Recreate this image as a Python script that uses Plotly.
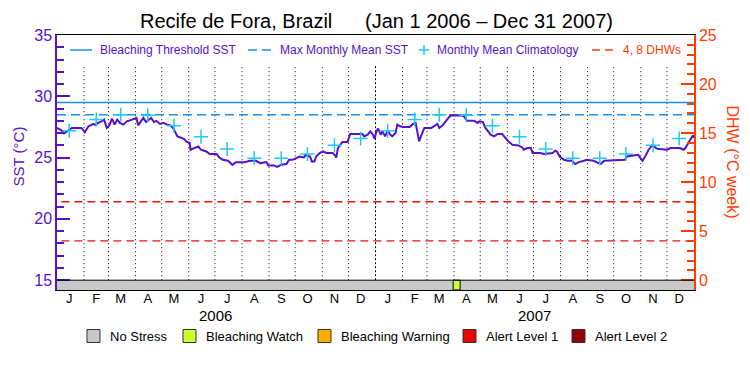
import pandas as pd
import plotly.graph_objects as go

# ---------------- data ----------------
title_site = "Recife de Fora, Brazil"
title_period = "(Jan 1 2006 \u2013 Dec 31 2007)"
period_start = "2006-01-01"
period_end = "2008-01-01"

# SST (deg C), day offsets from Jan 1 2006
sst_day = [0, 5, 8, 13, 17, 28, 32, 36, 42, 44, 47, 51, 54, 57, 60, 63, 66, 69, 72, 76,
           80, 86, 91, 93, 96, 99, 102, 105, 108, 111, 114, 118, 122, 126, 130, 133, 136, 138, 143, 146,
           148, 152, 153, 158, 162, 165, 171, 175, 183, 186, 190, 196, 201, 205, 215, 221, 228, 233, 240, 242,
           249, 252, 257, 263, 266, 270, 274, 278, 283, 285, 290, 292, 295, 297, 301, 305, 309, 316, 318, 320,
           322, 325, 327, 333, 336, 350, 352, 356, 359, 362, 364, 366, 368, 371, 373, 376, 379, 382, 384, 388,
           390, 393, 397, 404, 408, 411, 413, 415, 417, 421, 429, 432, 436, 438, 442, 447, 451, 463, 466, 470,
           478, 482, 484, 488, 491, 497, 501, 505, 510, 514, 518, 522, 529, 533, 535, 539, 543, 545, 554, 558,
           564, 568, 571, 573, 576, 581, 585, 590, 594, 598, 604, 607, 615, 619, 623, 627, 651, 653, 660, 666,
           668, 671, 674, 678, 682, 684, 688, 699, 703, 714, 718, 720, 724, 727, 729, 730]
sst_val = [27.42, 27.22, 26.98, 27.22, 27.42, 27.42, 27.06, 27.55, 27.75, 27.65, 27.83, 27.96, 28.10, 27.42, 27.63, 28.18, 27.69, 28.10, 27.83, 27.69,
           27.96, 28.10, 28.24, 27.63, 27.96, 28.24, 27.90, 28.10, 28.24, 27.90, 28.00, 27.75, 27.83, 27.69, 27.63, 27.42, 27.00, 26.73, 26.60, 26.50,
           26.32, 26.19, 25.64, 25.78, 25.91, 25.64, 25.50, 25.29, 25.29, 25.01, 24.82, 24.74, 24.41, 24.63, 24.63, 24.74, 24.74, 24.55, 24.63, 24.36,
           24.36, 24.25, 24.41, 24.47, 24.82, 24.82, 24.96, 25.09, 25.01, 25.23, 25.09, 24.69, 24.69, 25.09, 25.37, 25.50, 25.37, 25.37, 25.23, 25.01,
           25.78, 26.11, 26.27, 26.27, 26.93, 26.93, 26.73, 26.87, 27.14, 26.87, 26.52, 27.14, 27.36, 26.87, 27.14, 26.73, 27.20, 26.87, 26.73, 27.00,
           27.69, 27.55, 27.50, 27.50, 27.75, 27.83, 27.14, 26.32, 26.73, 27.42, 27.42, 27.55, 27.75, 27.42, 27.63, 28.10, 28.43, 28.45, 28.40, 28.00,
           28.00, 27.83, 27.96, 27.90, 27.42, 26.87, 26.73, 26.93, 26.93, 26.60, 26.27, 26.05, 25.99, 25.83, 25.64, 25.78, 25.78, 25.37, 25.37, 25.29,
           25.37, 25.37, 25.56, 25.50, 25.09, 24.82, 24.74, 24.74, 24.47, 24.63, 24.74, 24.82, 24.74, 24.63, 24.47, 24.74, 24.82, 25.09, 25.16, 25.23,
           25.01, 24.74, 25.09, 25.64, 26.00, 25.91, 25.72, 25.64, 25.78, 25.78, 25.64, 25.78, 26.32, 26.60, 26.81, 26.60]

# Monthly mean climatology (Jan..Dec)
clim_val = [27.2, 28.1, 28.5, 28.45, 27.6, 26.7, 25.7, 24.95, 24.95, 25.3, 26.0, 26.55]
years = [2006, 2007]
month_letters = ["J", "F", "M", "A", "M", "J", "J", "A", "S", "O", "N", "D"]

mmm = 28.5           # max monthly mean SST
threshold = 29.5     # bleaching threshold SST
dhw_levels = [4, 8]  # DHW reference lines

status_names = ["No Stress", "Bleaching Watch", "Bleaching Warning", "Alert Level 1", "Alert Level 2"]
status_colors = ["#c8c8c8", "#ccff33", "#ffaa00", "#ee0000", "#960000"]
alert_periods = [("2007-03-31", "2007-04-08", "Bleaching Watch")]

# ---------------- styles ----------------
PURPLE = "#5511cc"
ORANGE = "#ff3d00"
BLUE = "#1890f0"
CYAN = "#1ec8f8"
RED = "#ee1111"
FONT = "Liberation Sans"

OFF = 8  # page body margin
W, H = 750, 375
L, T = 57 - OFF, 35 - OFF
PW, PH = 637, 255
R, B = W - L - PW, H - T - PH


def PX(px):
    return (px - OFF - L) / PW


def PY(py):
    return (T + PH - (py - OFF)) / PH


t0 = pd.Timestamp(period_start)
sst_dates = [t0 + pd.Timedelta(days=d) for d in sst_day]
clim_dates = [pd.Timestamp(y, m + 1, 15) for y in years for m in range(12)]
clim_all = [clim_val[m] for y in years for m in range(12)]
tick_dates = clim_dates
tick_text = [month_letters[m] for y in years for m in range(12)]
month_starts = [pd.Timestamp(y, m + 1, 1) for y in years for m in range(12)][1:]

y_bottom = 14.2
y2_bottom = (y_bottom - 15) * 1.25

fig = go.Figure()

# threshold and MMM lines
fig.add_trace(go.Scatter(x=[period_start, period_end], y=[threshold, threshold], mode="lines",
                         line=dict(color=BLUE, width=1.5), showlegend=False, hoverinfo="skip"))
fig.add_trace(go.Scatter(x=[period_start, period_end], y=[mmm, mmm], mode="lines",
                         line=dict(color=BLUE, width=1.5, dash="9px,5px"), showlegend=False, hoverinfo="skip"))
# DHW lines on right axis
for lv in dhw_levels:
    fig.add_trace(go.Scatter(x=[t0 + pd.Timedelta(days=5), period_end], y=[lv, lv], mode="lines", yaxis="y2",
                             line=dict(color=RED, width=1.3, dash="8px,5px"), showlegend=False, hoverinfo="skip"))
# SST
fig.add_trace(go.Scatter(x=sst_dates, y=sst_val, mode="lines", line=dict(color=PURPLE, width=2),
                         showlegend=False))
# climatology
fig.add_trace(go.Scatter(x=clim_dates, y=clim_all, mode="markers",
                         marker=dict(symbol="cross-thin", size=10, line=dict(color=CYAN, width=1.5)),
                         showlegend=False))

shapes = []
# month dotted lines
for d in month_starts:
    yr = d.month == 1
    shapes.append(dict(type="line", xref="x", yref="y", x0=d, x1=d, y0=15, y1=32.55, layer="below",
                       line=dict(color="black", width=1, dash="2px,2px" if yr else "1px,3px")))
# status bar
shapes.append(dict(type="rect", xref="x", yref="y", x0=period_start, x1=period_end, y0=y_bottom, y1=15,
                   fillcolor=status_colors[0], line=dict(width=0), layer="below"))
for a0, a1, name in alert_periods:
    shapes.append(dict(type="rect", xref="x", yref="y", x0=a0, x1=a1, y0=y_bottom, y1=15,
                       fillcolor=status_colors[status_names.index(name)], line=dict(color="black", width=1)))
shapes.append(dict(type="line", xref="paper", yref="y", x0=0, x1=1, y0=15, y1=15,
                   line=dict(color="black", width=1)))

annotations = []
# title
annotations.append(dict(text=title_site, xref="paper", yref="paper", x=PX(138), y=PY(21), xanchor="left",
                        yanchor="middle", showarrow=False, font=dict(family=FONT, size=20, color="black")))
annotations.append(dict(text=title_period, xref="paper", yref="paper", x=PX(363), y=PY(21), xanchor="left",
                        yanchor="middle", showarrow=False, font=dict(family=FONT, size=20, color="black")))

# top legend
ly = PY(50)
shapes.append(dict(type="line", xref="paper", yref="paper", x0=PX(70), x1=PX(92), y0=ly, y1=ly,
                   line=dict(color=BLUE, width=1.5)))
shapes.append(dict(type="line", xref="paper", yref="paper", x0=PX(248), x1=PX(272), y0=ly, y1=ly,
                   line=dict(color=BLUE, width=1.5, dash="9px,5px")))
shapes.append(dict(type="line", xref="paper", yref="paper", x0=PX(419), x1=PX(429), y0=ly, y1=ly,
                   line=dict(color=CYAN, width=1.5)))
shapes.append(dict(type="line", xref="paper", yref="paper", x0=PX(424), x1=PX(424), y0=PY(45), y1=PY(55),
                   line=dict(color=CYAN, width=1.5)))
shapes.append(dict(type="line", xref="paper", yref="paper", x0=PX(592), x1=PX(617), y0=ly, y1=ly,
                   line=dict(color=ORANGE, width=1.3, dash="8px,5px")))
for txt, px, col in [("Bleaching Threshold SST", 98, PURPLE), ("Max Monthly Mean SST", 278, PURPLE),
                     ("Monthly Mean Climatology", 435, PURPLE), ("4, 8 DHWs", 621, ORANGE)]:
    annotations.append(dict(text=txt, xref="paper", yref="paper", x=PX(px), y=ly, xanchor="left",
                            yanchor="middle", showarrow=False, font=dict(family=FONT, size=12, color=col)))

# bottom legend
by = 336
for name, col, bx, tx in zip(status_names, status_colors, [87, 183, 318, 463, 572], [108, 204, 339, 484, 593]):
    shapes.append(dict(type="rect", xref="paper", yref="paper", x0=PX(bx), x1=PX(bx + 13), y0=PY(by - 6.5),
                       y1=PY(by + 6.5), fillcolor=col, line=dict(color="#333333", width=1)))
    annotations.append(dict(text=name, xref="paper", yref="paper", x=PX(tx), y=PY(by), xanchor="left",
                            yanchor="middle", showarrow=False, font=dict(family=FONT, size=13, color="black")))

# year labels
for y in years:
    annotations.append(dict(text=str(y), xref="x", yref="paper", x=pd.Timestamp(y, 7, 2), y=PY(315),
                            xanchor="center", yanchor="middle", showarrow=False,
                            font=dict(family=FONT, size=15, color="black")))
# axis titles
annotations.append(dict(text="SST (\u00b0C)", xref="paper", yref="paper", x=PX(17.5), y=PY(157), textangle=-90,
                        xanchor="center", yanchor="middle", showarrow=False,
                        font=dict(family=FONT, size=15, color=PURPLE)))
annotations.append(dict(text="DHW (\u00b0C week)", xref="paper", yref="paper", x=PX(732), y=PY(161.5), textangle=90,
                        xanchor="center", yanchor="middle", showarrow=False,
                        font=dict(family=FONT, size=16, color=ORANGE)))

fig.update_layout(
    width=W, height=H, autosize=False,
    margin=dict(l=L, r=R, t=T, b=B, pad=0, autoexpand=False),
    paper_bgcolor="white", plot_bgcolor="white",
    showlegend=False,
    shapes=shapes, annotations=annotations,
    xaxis=dict(type="date", range=[period_start, period_end], tickmode="array", tickvals=tick_dates,
               ticktext=tick_text, ticks="", showgrid=False, zeroline=False, showline=True,
               linecolor="black", linewidth=1, mirror=True, automargin=False, ticklabelstandoff=-4,
               tickfont=dict(family=FONT, size=13, color="black")),
    yaxis=dict(range=[y_bottom, 35], tickmode="array", tickvals=[15, 20, 25, 30, 35], ticks="inside",
               ticklen=13, tickwidth=1.5, tickcolor=PURPLE, showgrid=False, zeroline=False,
               showline=True, linecolor=PURPLE, linewidth=1.5, automargin=False,
               minor=dict(tickmode="array", tickvals=list(range(15, 36)), ticks="inside", ticklen=7,
                          tickwidth=1.5, tickcolor=PURPLE, showgrid=False),
               tickfont=dict(family=FONT, size=16, color=PURPLE)),
    yaxis2=dict(range=[y2_bottom, 25], overlaying="y", side="right", tickmode="array",
                tickvals=[0, 5, 10, 15, 20, 25], ticks="inside", ticklen=13, tickwidth=1.5, tickcolor=ORANGE,
                showgrid=False, zeroline=False, showline=True, linecolor=ORANGE, linewidth=1.5,
                automargin=False,
                minor=dict(tickmode="array", tickvals=list(range(0, 26)), ticks="inside", ticklen=7,
                           tickwidth=1.5, tickcolor=ORANGE, showgrid=False),
                tickfont=dict(family=FONT, size=16, color=ORANGE)),
)

fig.write_html("out.html")
